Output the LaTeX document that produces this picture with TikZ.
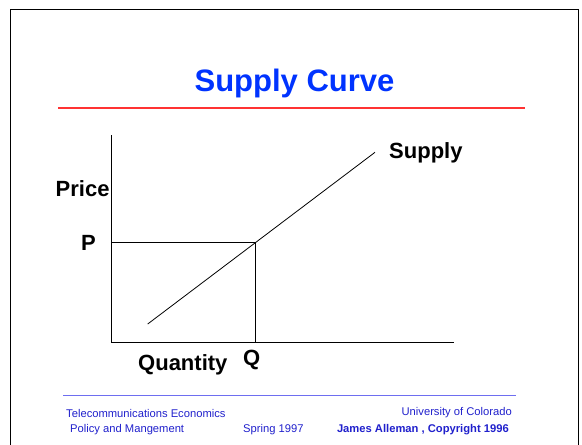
\documentclass[tikz,border=0pt]{standalone}
\usepackage{fontspec}
\setmainfont{Liberation Sans}
\definecolor{titleblue}{RGB}{0,51,255}
\definecolor{footblue}{RGB}{32,32,204}
\definecolor{lineblue}{RGB}{110,110,240}
\definecolor{redline}{RGB}{255,51,51}
\begin{document}
\begin{tikzpicture}[x=1pt,y=-1pt,
  lbl/.style={font=\fontsize{22}{26}\selectfont\bfseries, inner sep=0pt, anchor=west},
  foot/.style={font=\fontsize{11.2}{13}\selectfont, text=footblue, inner sep=0pt},
  thin/.style={line width=0.8pt}]
\useasboundingbox (0,0) rectangle (582,445);
% frame
\draw[line width=0.9pt] (10.5,450) -- (10.5,9.5) -- (578.5,9.5) -- (578.5,450);
% title
\node[font=\fontsize{31}{35}\selectfont\bfseries, text=titleblue, inner sep=0pt] (title) at (294.5,83) {Supply Curve};
\draw[redline, line width=1.8pt] (58,108) -- (525,108);
% axes
\coordinate (top) at (111,135);
\coordinate (origin) at (111,342);
\coordinate (xend) at (454,342);
\draw[thin] (top) -- (origin) -- (xend);
\coordinate (s0) at (147.7,324);
\coordinate (s1) at (375,152.3);
\coordinate (eq) at (255,242.3);
\draw[thin] (s0) -- (s1);
\coordinate (py) at (111,242.3);
\coordinate (qx) at (255,342);
\draw[thin] (py) -- (eq) -- (qx);
% labels
\node[lbl] (supply) at (389,153) {Supply};
\node[lbl] (price) at (55.5,189) {Price};
\node[lbl] (plab) at (81,243) {P};
\node[lbl] (quantity) at (138,365) {Quantity};
\node[lbl] (qlab) at (243,360) {Q};
% footer
\draw[lineblue, line width=1.2pt] (63,395.5) -- (516,395.5);
\node[foot, anchor=west] (f1) at (66,413) {Telecommunications Economics};
\node[foot, anchor=west] (f2) at (70,430) {Policy and Mangement};
\node[foot, anchor=west] (f3) at (243,430) {Spring 1997};
\node[foot, anchor=east] (f4) at (512,413) {University of Colorado};
\node[foot, anchor=east, font=\fontsize{11.2}{13}\selectfont\bfseries] (f5) at (509,430) {James Alleman , Copyright 1996};
\end{tikzpicture}
\end{document}
